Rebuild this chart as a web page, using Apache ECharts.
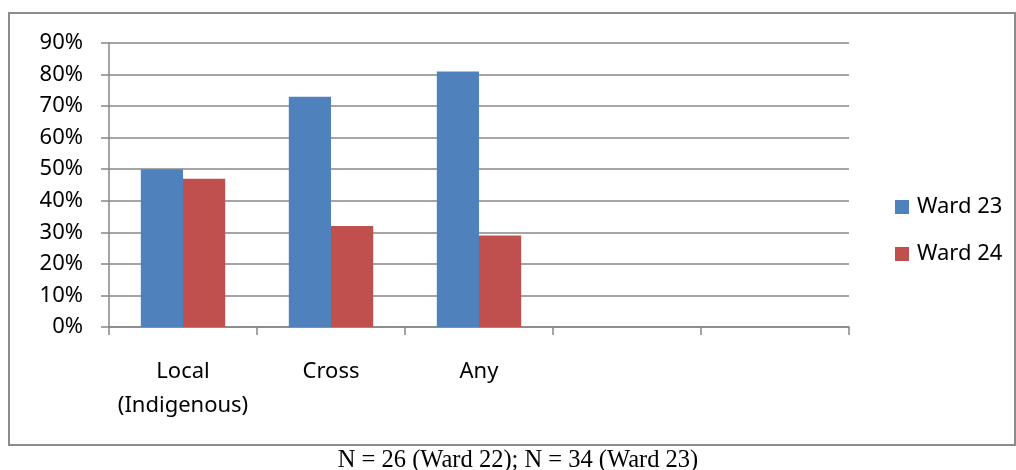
<!DOCTYPE html>
<html>
<head>
<meta charset="utf-8">
<script src="https://cdn.jsdelivr.net/npm/echarts@6/dist/echarts.min.js"></script>
<style>html,body{margin:0;padding:0;background:#fff}#c{width:1016px;height:470px}</style>
</head>
<body>
<div id="c"></div>
<script>
const categories = ['Local\n(Indigenous)', 'Cross', 'Any', '', ''];
const ward23 = [50, 73, 81, null, null];
const ward24 = [47, 32, 29, null, null];
const yTicks = { min: 0, max: 90, interval: 10 };
const caption = 'N = 26 (Ward 22); N = 34 (Ward 23)';

const gridColor = '#878787';
const chart = echarts.init(document.getElementById('c'), null, { renderer: 'canvas' });
chart.setOption({
  animation: false,
  backgroundColor: '#fff',
  textStyle: { fontFamily: 'Noto Sans' },
  grid: { left: 109, right: 167, top: 43, bottom: 143 },
  graphic: [{
    type: 'rect', silent: true,
    shape: { x: 9, y: 13, width: 1006, height: 432 },
    style: { fill: 'none', stroke: '#8c8c8c', lineWidth: 2 }
  }, {
    type: 'text', silent: true, x: 518, y: 448,
    style: { text: caption, fontFamily: 'Liberation Serif', fontSize: 24.5, fill: '#000', align: 'center', verticalAlign: 'top' }
  }],
  legend: {
    orient: 'vertical', left: 890, top: 191,
    itemWidth: 14, itemHeight: 14, itemGap: 25,
    icon: 'rect',
    textStyle: { fontFamily: 'Noto Sans', fontSize: 22, color: '#000', lineHeight: 22, padding: [0, 0, 0, 3] },
    data: ['Ward 23', 'Ward 24']
  },
  xAxis: {
    type: 'category', data: categories,
    axisLine: { lineStyle: { color: gridColor, width: 1.5 } },
    axisTick: { show: true, length: 8, interval: 0, lineStyle: { color: gridColor, width: 1.5 } },
    axisLabel: { interval: 0, color: '#000', fontSize: 22, lineHeight: 34, margin: 28, fontFamily: 'Noto Sans' }
  },
  yAxis: {
    type: 'value', min: yTicks.min, max: yTicks.max, interval: yTicks.interval,
    axisLine: { show: true, lineStyle: { color: gridColor, width: 1.5 } },
    axisTick: { show: true, length: 8, lineStyle: { color: gridColor, width: 1.5 } },
    splitLine: { lineStyle: { color: gridColor, width: 1.5 } },
    axisLabel: { formatter: '{value}%', color: '#000', fontSize: 22, margin: 26, fontFamily: 'Noto Sans' }
  },
  series: [
    { name: 'Ward 23', type: 'bar', data: ward23, barGap: '0%', barCategoryGap: '43%', itemStyle: { color: '#4F81BD' } },
    { name: 'Ward 24', type: 'bar', data: ward24, barGap: '0%', barCategoryGap: '43%', itemStyle: { color: '#C0504D' } }
  ]
});
</script>
</body>
</html>
